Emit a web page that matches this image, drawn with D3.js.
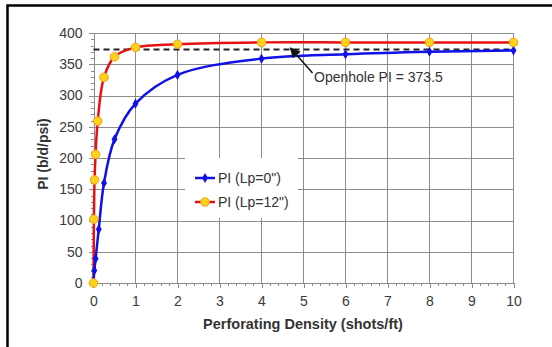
<!DOCTYPE html>
<meta charset="utf-8">
<html>
<head>
<title>PI vs perforating density</title>
<style>
body { margin: 0; background: #fff; }
svg { display: block; font-family: Arial, "Liberation Sans", sans-serif; }
.grid line { stroke: #8c8c8c; stroke-width: 1; shape-rendering: crispEdges; }
.axis path, .axis line { stroke: #8c8c8c; shape-rendering: crispEdges; }
.axis text { fill: #3a3a3a; font-size: 14px; }
</style>
</head>
<body>
<svg width="552" height="347"></svg>
<script src="https://cdn.jsdelivr.net/npm/d3@7"></script>
<script>

// shot density (shots/ft) and PI (b/d/psi)
var xLp0  = [0, 0.02, 0.05, 0.125, 0.25, 0.5, 1, 2, 4, 6, 8, 10];
var piLp0 = [0, 20, 39, 86, 160, 230, 287, 333, 359, 366, 370, 372];
var xLp12  = [0, 0.01, 0.025, 0.05, 0.1, 0.25, 0.5, 1, 2, 4, 6, 8, 10];
var piLp12 = [0, 102, 165, 206, 259, 329, 362, 377, 382, 385, 385, 385, 385];
var openholePI = 373.5;
var xTicks = [0, 1, 2, 3, 4, 5, 6, 7, 8, 9, 10];
var yTicks = [0, 50, 100, 150, 200, 250, 300, 350, 400];
var seriesNames = ['PI (Lp=0")', 'PI (Lp=12")'];

var svg = d3.select("svg");

// outer frame (only top/left show inside the crop)
svg.append("rect")
    .attr("x", 7.5).attr("y", 5.5)
    .attr("width", 600).attr("height", 400)
    .attr("fill", "none").attr("stroke", "#000").attr("stroke-width", 2.5);

var x = d3.scaleLinear().domain([0, 10]).range([93.5, 513.5]);
var y = d3.scaleLinear().domain([0, 400]).range([283, 33]);

var g = svg.append("g");

// grid
g.append("g").attr("class", "grid")
  .selectAll("line").data(yTicks.slice(1)).enter().append("line")
    .attr("x1", x(0)).attr("x2", x(10))
    .attr("y1", function(d) { return Math.round(y(d)) + 0.5; })
    .attr("y2", function(d) { return Math.round(y(d)) + 0.5; });
g.append("g").attr("class", "grid")
  .selectAll("line").data(xTicks.slice(1)).enter().append("line")
    .attr("y1", y(0)).attr("y2", y(400))
    .attr("x1", function(d) { return x(d); })
    .attr("x2", function(d) { return x(d); });

// legend box (white, covers grid)
svg.append("rect")
    .attr("x", 185).attr("y", 158)
    .attr("width", 113).attr("height", 60)
    .attr("fill", "#fff");

// minor ticks
g.append("g").attr("class", "axis")
    .attr("transform", "translate(0," + y(0) + ")")
    .call(d3.axisBottom(x).ticks(50).tickSize(3).tickFormat(""))
    .select(".domain").remove();
g.append("g").attr("class", "axis")
    .attr("transform", "translate(" + x(0) + ",0)")
    .call(d3.axisLeft(y).ticks(40).tickSize(3).tickFormat(""))
    .select(".domain").remove();

// major axes
g.append("g").attr("class", "axis")
    .attr("transform", "translate(0," + y(0) + ")")
    .call(d3.axisBottom(x).tickValues(xTicks).tickSize(5).tickSizeOuter(0).tickPadding(8));
g.append("g").attr("class", "axis")
    .attr("transform", "translate(" + x(0) + ",0)")
    .call(d3.axisLeft(y).tickValues(yTicks).tickSize(5).tickSizeOuter(0).tickPadding(6));

// axis titles
svg.append("text")
    .attr("x", 303).attr("y", 329)
    .attr("text-anchor", "middle")
    .attr("font-size", 14.5).attr("font-weight", "bold").attr("fill", "#333")
    .text("Perforating Density (shots/ft)");
svg.append("text")
    .attr("transform", "translate(48,154) rotate(-90)")
    .attr("text-anchor", "middle")
    .attr("font-size", 14).attr("font-weight", "bold").attr("fill", "#333")
    .text("PI (b/d/psi)");

// openhole reference line
g.append("line")
    .attr("x1", x(0)).attr("x2", x(10))
    .attr("y1", y(openholePI)).attr("y2", y(openholePI))
    .attr("stroke", "#222").attr("stroke-width", 2)
    .attr("stroke-dasharray", "6,4");

// curves
var line = d3.line()
    .x(function(d) { return x(d[0]); })
    .y(function(d) { return y(d[1]); })
    .curve(d3.curveCatmullRom.alpha(0.5));

var red = d3.zip(xLp12, piLp12);
var blue = d3.zip(xLp0, piLp0);

g.append("path").datum(red)
    .attr("fill", "none").attr("stroke", "#e81010").attr("stroke-width", 2.5)
    .attr("d", line);
g.append("path").datum(blue)
    .attr("fill", "none").attr("stroke", "#1010e8").attr("stroke-width", 2.5)
    .attr("d", line);

var diamond = d3.symbol().type(d3.symbolDiamond).size(30);

g.selectAll(".bpt").data(blue).enter().append("path")
    .attr("class", "bpt")
    .attr("transform", function(d) { return "translate(" + x(d[0]) + "," + y(d[1]) + ")"; })
    .attr("d", diamond)
    .attr("fill", "#1010e8");

g.selectAll(".rpt").data(red).enter().append("circle")
    .attr("class", "rpt")
    .attr("cx", function(d) { return x(d[0]); })
    .attr("cy", function(d) { return y(d[1]); })
    .attr("r", 4.3)
    .attr("fill", "#ffd21a").attr("stroke", "#f0a020").attr("stroke-width", 1);

// annotation
svg.append("defs").append("marker")
    .attr("id", "arr").attr("viewBox", "0 0 10 10")
    .attr("refX", 9).attr("refY", 5)
    .attr("markerWidth", 7).attr("markerHeight", 7)
    .attr("orient", "auto")
  .append("path").attr("d", "M0,0 L10,5 L0,10 z").attr("fill", "#111");

svg.append("line")
    .attr("x1", 312.5).attr("y1", 73)
    .attr("x2", 290.5).attr("y2", 48)
    .attr("stroke", "#111").attr("stroke-width", 1.5)
    .attr("marker-end", "url(#arr)");

svg.append("text")
    .attr("x", 314).attr("y", 82)
    .attr("font-size", 14).attr("fill", "#333")
    .text("Openhole PI = " + openholePI);

// legend
var lg = svg.append("g").attr("transform", "translate(195,0)");
var rows = [178, 202];

lg.append("line").attr("x1", 0).attr("x2", 20).attr("y1", rows[0]).attr("y2", rows[0])
    .attr("stroke", "#1010e8").attr("stroke-width", 2.5);
lg.append("path").attr("transform", "translate(10," + rows[0] + ")")
    .attr("d", diamond).attr("fill", "#1010e8");
lg.append("line").attr("x1", 0).attr("x2", 20).attr("y1", rows[1]).attr("y2", rows[1])
    .attr("stroke", "#e81010").attr("stroke-width", 2.5);
lg.append("circle").attr("cx", 10).attr("cy", rows[1]).attr("r", 4.3)
    .attr("fill", "#ffd21a").attr("stroke", "#f0a020");

lg.selectAll("text").data(seriesNames).enter().append("text")
    .attr("x", 23)
    .attr("y", function(d, i) { return rows[i]; })
    .attr("dy", "0.35em")
    .attr("font-size", 14).attr("fill", "#333")
    .text(function(d) { return d; });

</script>
</body>
</html>
